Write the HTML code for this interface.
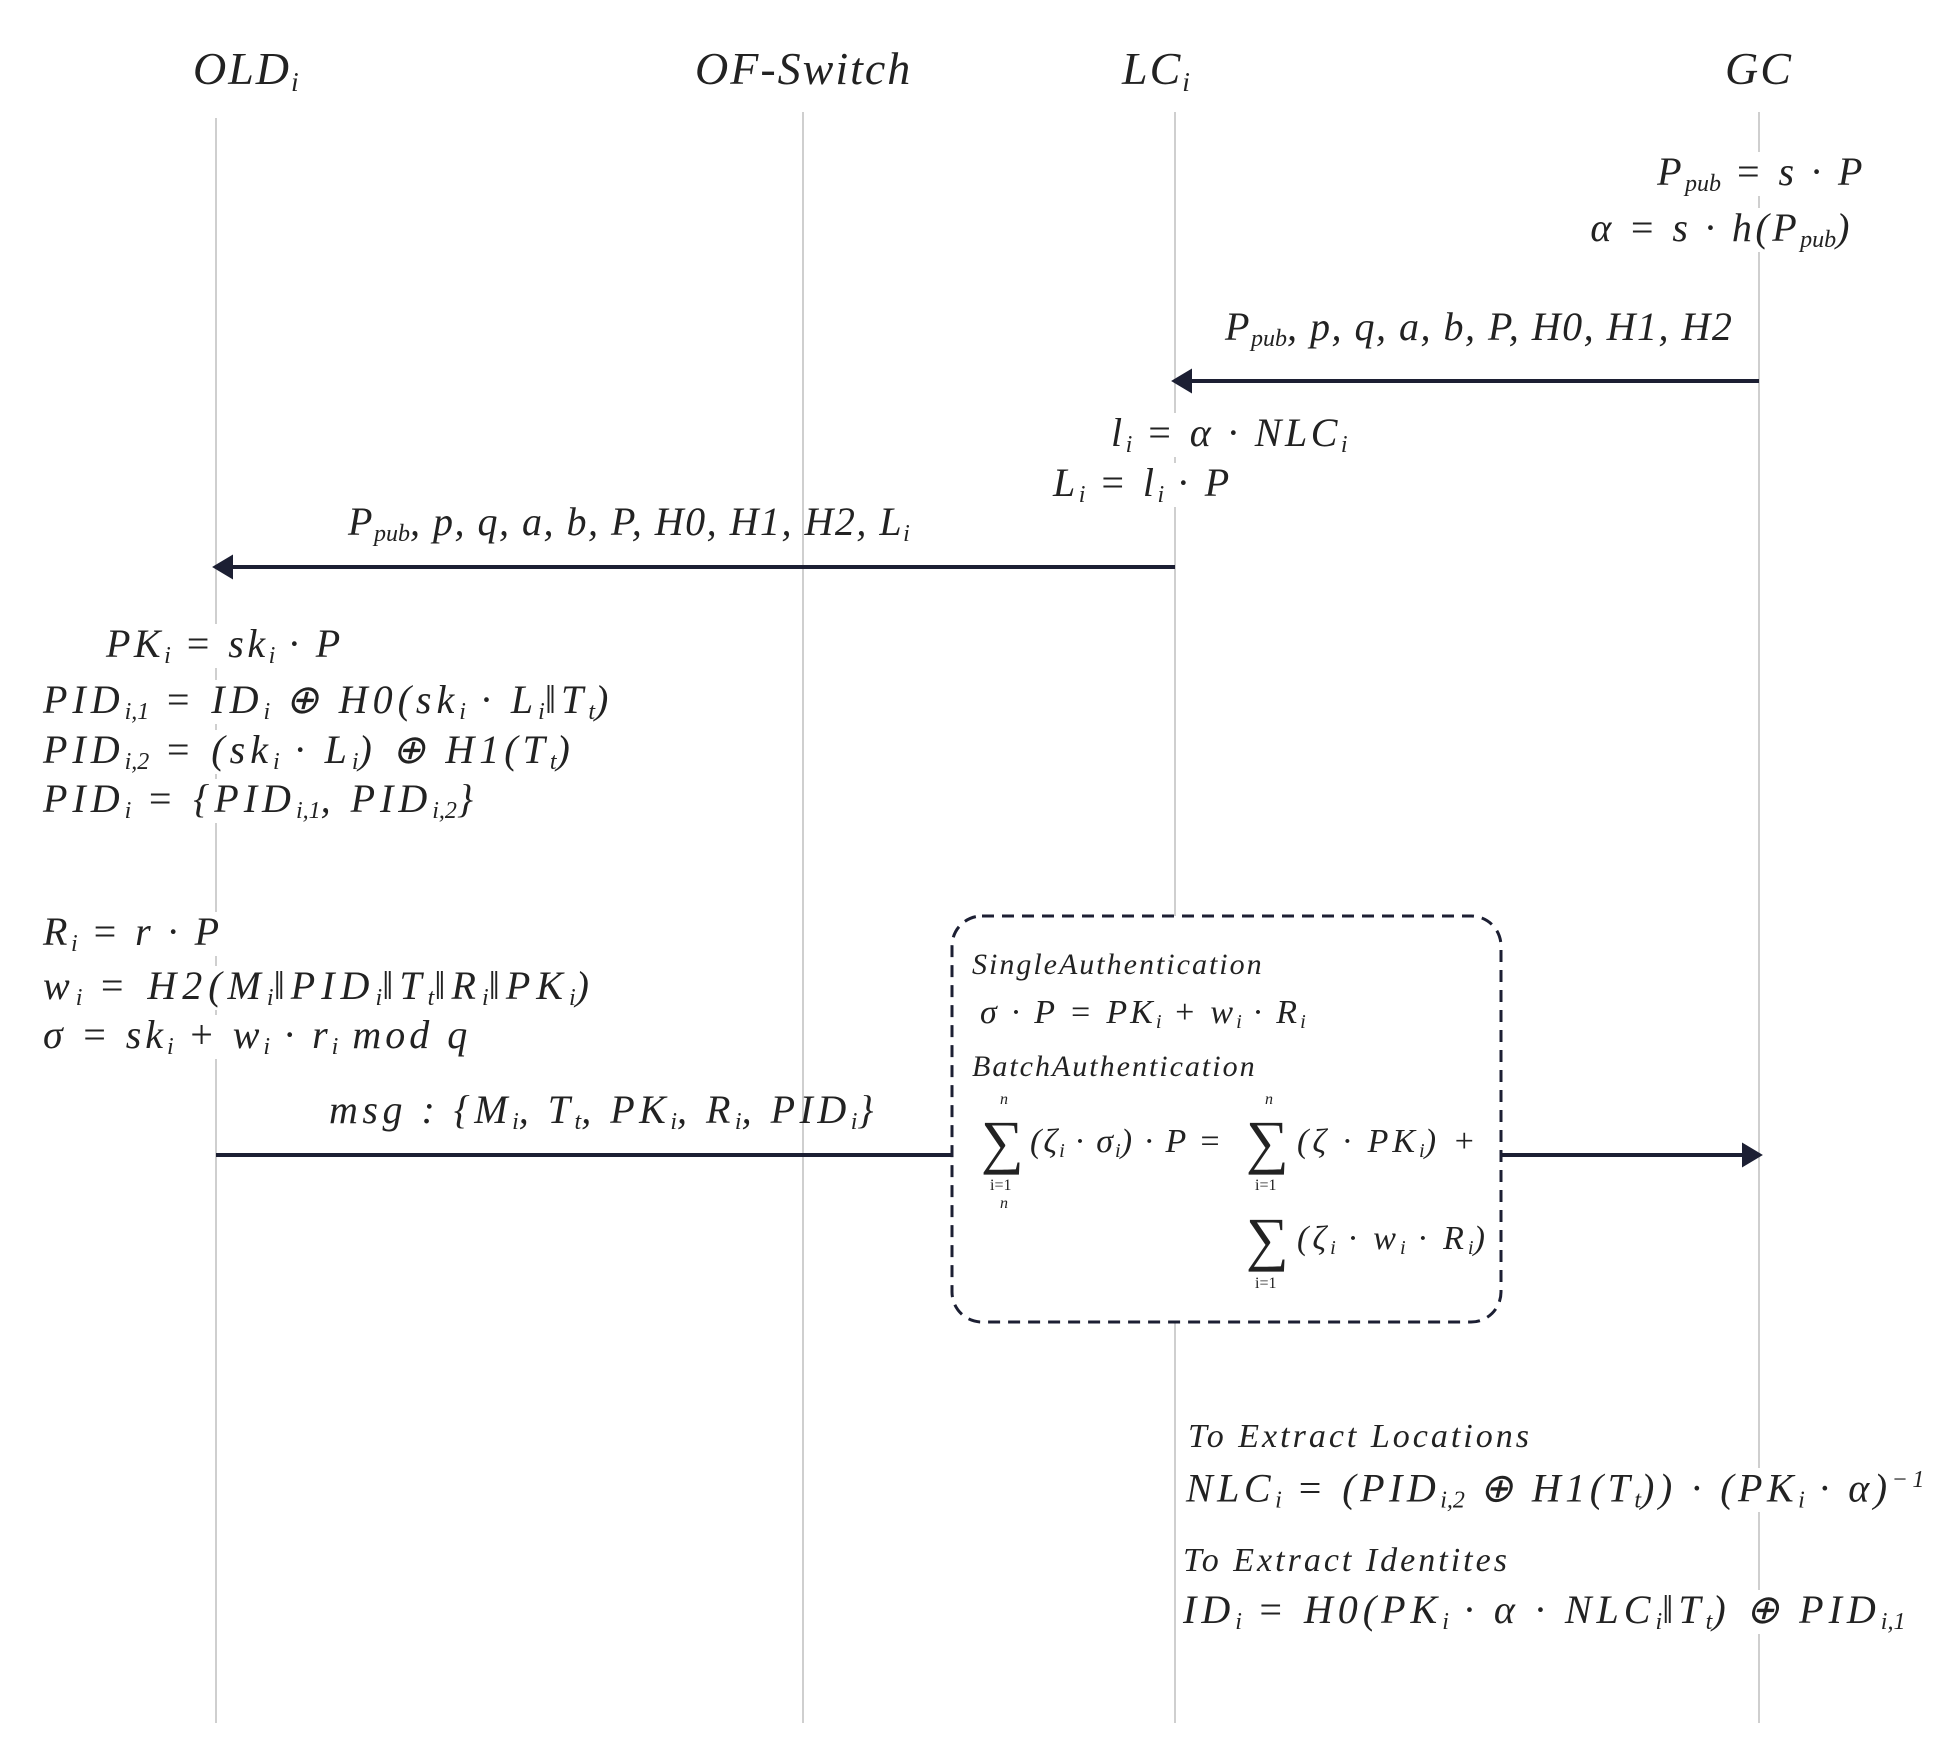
<!DOCTYPE html>
<html><head><meta charset="utf-8"><style>
body{margin:0;width:1947px;height:1751px;background:#fff;position:relative;overflow:hidden;font-family:"Liberation Serif",serif;color:#222}
.l{position:absolute;width:2px;background:#cfcfcf}
.t{position:absolute;white-space:nowrap;font-style:italic;line-height:1;font-size:40px;background:#fff;letter-spacing:3.5px}
.h{position:absolute;white-space:nowrap;line-height:1;font-size:46px;letter-spacing:2px}
sub{font-size:60%;vertical-align:-0.25em;letter-spacing:0}
sup{font-size:60%}
.s{font-size:30px;letter-spacing:2px}
.sum{position:absolute;font-size:60px;line-height:1;font-style:normal}
.idx{position:absolute;font-size:16px;line-height:1}
</style></head><body>
<div class="l" style="left:215px;top:118px;height:1605px"></div>
<div class="l" style="left:802px;top:112px;height:1611px"></div>
<div class="l" style="left:1174px;top:112px;height:1611px"></div>
<div class="l" style="left:1758px;top:112px;height:1611px"></div>

<div class="h" style="left:193px;top:46px;font-style:italic">OLD<sub>i</sub></div>
<div class="h" style="left:695px;top:46px;font-style:italic">OF-Switch</div>
<div class="h" style="left:1122px;top:46px;font-style:italic">LC<sub>i</sub></div>
<div class="h" style="left:1725px;top:46px;font-style:italic">GC</div>

<svg width="1947" height="1751" style="position:absolute;left:0;top:0">
<g stroke="#1c1f33" stroke-width="4" fill="#1c1f33">
<line x1="1759" y1="381" x2="1185" y2="381"/><polygon points="1175,381 1190,372 1190,390"/>
<line x1="1175" y1="567" x2="226" y2="567"/><polygon points="216,567 231,558 231,576"/>
<line x1="216" y1="1155" x2="952" y2="1155"/>
<line x1="1501" y1="1155" x2="1748" y2="1155"/><polygon points="1759,1155 1744,1146 1744,1164"/>
</g>
<rect x="952" y="916" width="549" height="406" rx="30" fill="#fff" stroke="#1c1f33" stroke-width="3" stroke-dasharray="12,8"/>
</svg>

<div class="t" style="right:81px;top:152px">P<sub>pub</sub> = s · P</div>
<div class="t" style="right:94px;top:208px">α = s · h(P<sub>pub</sub>)</div>
<div class="t" style="left:1225px;top:307px;background:none;letter-spacing:1.5px">P<sub>pub</sub>, p, q, a, b, P, H0, H1, H2</div>
<div class="t" style="left:1111px;top:413px">l<sub>i</sub> = α · NLC<sub>i</sub></div>
<div class="t" style="left:1053px;top:463px">L<sub>i</sub> = l<sub>i</sub> · P</div>
<div class="t" style="left:348px;top:502px;background:none;letter-spacing:1.5px">P<sub>pub</sub>, p, q, a, b, P, H0, H1, H2, L<sub>i</sub></div>

<div class="t" style="left:106px;top:624px">PK<sub>i</sub> = sk<sub>i</sub> · P</div>
<div class="t" style="left:43px;top:680px;letter-spacing:5px">PID<sub>i,1</sub> = ID<sub>i</sub> ⊕ H0(sk<sub>i</sub> · L<sub>i</sub>‖T<sub>t</sub>)</div>
<div class="t" style="left:43px;top:730px;letter-spacing:5px">PID<sub>i,2</sub> = (sk<sub>i</sub> · L<sub>i</sub>) ⊕ H1(T<sub>t</sub>)</div>
<div class="t" style="left:43px;top:779px;letter-spacing:5px">PID<sub>i</sub> = {PID<sub>i,1</sub>, PID<sub>i,2</sub>}</div>

<div class="t" style="left:43px;top:912px">R<sub>i</sub> = r · P</div>
<div class="t" style="left:43px;top:966px;letter-spacing:6px">w<sub>i</sub> = H2(M<sub>i</sub>‖PID<sub>i</sub>‖T<sub>t</sub>‖R<sub>i</sub>‖PK<sub>i</sub>)</div>
<div class="t" style="left:43px;top:1015px;letter-spacing:4px">σ = sk<sub>i</sub> + w<sub>i</sub> · r<sub>i</sub> mod q</div>
<div class="t" style="left:329px;top:1090px;background:none;letter-spacing:4.5px">msg : {M<sub>i</sub>, T<sub>t</sub>, PK<sub>i</sub>, R<sub>i</sub>, PID<sub>i</sub>}</div>

<div class="t s" style="left:972px;top:950px;background:none">SingleAuthentication</div>
<div class="t s" style="left:980px;top:996px;background:none;font-size:34px;letter-spacing:3px">σ · P = PK<sub>i</sub> + w<sub>i</sub> · R<sub>i</sub></div>
<div class="t s" style="left:972px;top:1052px;background:none">BatchAuthentication</div>
<div class="idx" style="left:1000px;top:1092px;font-style:italic">n</div>
<div class="sum" style="left:981px;top:1112px">∑</div>
<div class="idx" style="left:990px;top:1178px">i=1</div>
<div class="idx" style="left:1000px;top:1196px;font-style:italic">n</div>
<div class="t" style="left:1030px;top:1125px;background:none;font-size:34px;letter-spacing:2px">(ζ<sub>i</sub> · σ<sub>i</sub>) · P =</div>
<div class="idx" style="left:1265px;top:1092px;font-style:italic">n</div>
<div class="sum" style="left:1246px;top:1112px">∑</div>
<div class="idx" style="left:1255px;top:1178px">i=1</div>
<div class="t" style="left:1297px;top:1125px;background:none;font-size:34px;letter-spacing:4px">(ζ · PK<sub>i</sub>) +</div>
<div class="sum" style="left:1246px;top:1209px">∑</div>
<div class="idx" style="left:1255px;top:1276px">i=1</div>
<div class="t" style="left:1297px;top:1222px;background:none;font-size:34px;letter-spacing:4px">(ζ<sub>i</sub> · w<sub>i</sub> · R<sub>i</sub>)</div>

<div class="t" style="left:1188px;top:1420px;font-size:34px;letter-spacing:3px">To Extract Locations</div>
<div class="t" style="left:1186px;top:1468px;letter-spacing:4.5px">NLC<sub>i</sub> = (PID<sub>i,2</sub> ⊕ H1(T<sub>t</sub>)) · (PK<sub>i</sub> · α)<sup>−1</sup></div>
<div class="t" style="left:1183px;top:1544px;font-size:34px;letter-spacing:3px">To Extract Identites</div>
<div class="t" style="left:1183px;top:1590px;letter-spacing:5px">ID<sub>i</sub> = H0(PK<sub>i</sub> · α · NLC<sub>i</sub>‖T<sub>t</sub>) ⊕ PID<sub>i,1</sub></div>
</body></html>
